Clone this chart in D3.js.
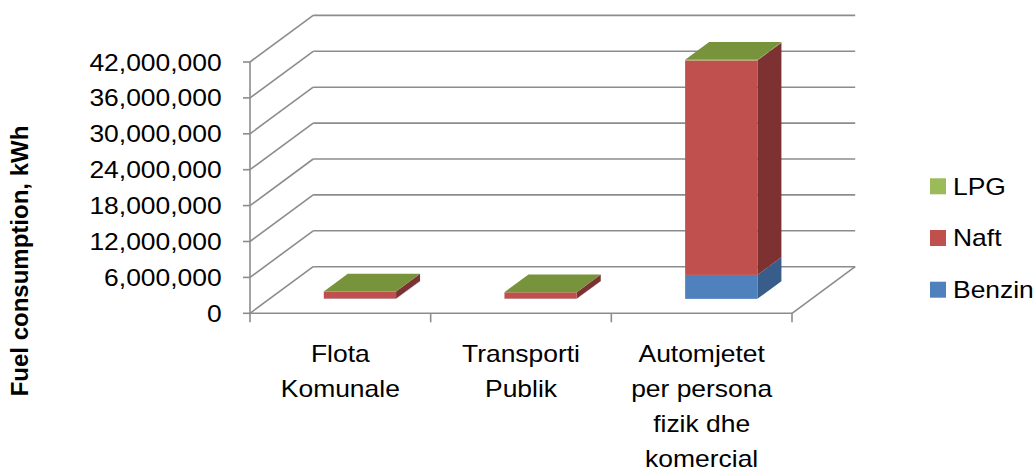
<script src="https://cdnjs.cloudflare.com/ajax/libs/d3/7.8.5/d3.min.js"></script>
<style>
  body { margin: 0; background: #fff; }
  svg { display: block; }
  text { font-family: 'Liberation Sans', Arial, sans-serif; fill: #000; }
</style>
<body>
<div id="chart"></div>
<script>

// chart data
let categories = ["Flota Komunale", "Transporti Publik", "Automjetet per persona fizik dhe komercial"];
let categoryLines = [["Flota", "Komunale"], ["Transporti", "Publik"], ["Automjetet", "per persona", "fizik dhe", "komercial"]];
let seriesNames = ["Benzin", "Naft", "LPG"];
let benzin = [50000, 40000, 4000000];
let naft = [1170000, 1060000, 35850000];
let lpg = [20000, 20000, 100000];
let yTicks = [0, 6000000, 12000000, 18000000, 24000000, 30000000, 36000000, 42000000];

let colors = {
  Benzin: { front: "#4F81BD", side: "#385D8A", top: "#4A76AC" },
  Naft:   { front: "#C0504D", side: "#7D3231", top: "#A84744" },
  LPG:    { front: "#9BBB59", side: "#6E8A3A", top: "#77933C" }
};
let gridColor = "#8c8c8c";
let textStretch = 1.15;

let svg = d3.select("#chart").append("svg")
  .attr("width", 1035)
  .attr("height", 471);

// front plane scales
let x = d3.scaleBand()
  .domain(categories)
  .range([250, 792])
  .paddingInner(0.6)
  .paddingOuter(0.3);
let step = x.step();

let y = d3.scaleLinear()
  .domain([0, 42000000])
  .range([313.3, 62]);

// depth of the 3d box
let depthX = d3.scaleLinear().domain([0, 1]).range([0, 63.2]);
let depthY = d3.scaleLinear().domain([0, 1]).range([0, -46.6]);
let barFront = 0.31, barBack = 0.69;

let grid = svg.append("g")
  .attr("stroke", gridColor)
  .attr("stroke-width", 1.6)
  .attr("fill", "none");

// back wall gridlines + side wall diagonals
yTicks.forEach(function(t) {
  grid.append("line")
    .attr("x1", 250 + depthX(1)).attr("y1", y(t) + depthY(1))
    .attr("x2", 792 + depthX(1)).attr("y2", y(t) + depthY(1));
  grid.append("line")
    .attr("x1", 250).attr("y1", y(t))
    .attr("x2", 250 + depthX(1)).attr("y2", y(t) + depthY(1));
  // tick on the value axis
  grid.append("line")
    .attr("x1", 243).attr("y1", y(t))
    .attr("x2", 250).attr("y2", y(t));
});

// floor front + right edge, value axis
grid.append("line")
  .attr("x1", 250).attr("y1", y(0))
  .attr("x2", 792).attr("y2", y(0));
grid.append("line")
  .attr("x1", 792).attr("y1", y(0))
  .attr("x2", 792 + depthX(1)).attr("y2", y(0) + depthY(1));
grid.append("line")
  .attr("x1", 250).attr("y1", y(42000000))
  .attr("x2", 250).attr("y2", y(0));

// category ticks
let catTicks = [250].concat(categories.map(function(c) { return x(c) - step * 0.3 + step; }));
catTicks.forEach(function(tx) {
  grid.append("line")
    .attr("x1", tx).attr("y1", y(0))
    .attr("x2", tx).attr("y2", y(0) + 9);
});

// stacked bars
let table = categories.map(function(c, i) {
  return { category: c, Benzin: benzin[i], Naft: naft[i], LPG: lpg[i] };
});
let stacked = d3.stack().keys(seriesNames)(table);

let bars = svg.append("g");
let ox = depthX(barFront), oy = depthY(barFront);
let dx = depthX(barBack) - depthX(barFront), dy = depthY(barBack) - depthY(barFront);

function poly(points) {
  return points.map(function(p) { return p.join(","); }).join(" ");
}

categories.forEach(function(c, i) {
  let xl = x(c) + ox, xr = x(c) + x.bandwidth() + ox;
  stacked.forEach(function(s) {
    let y0 = y(s[i][0]) + oy, y1 = y(s[i][1]) + oy;
    let col = colors[s.key];
    bars.append("polygon")
      .attr("points", poly([[xr, y0], [xr + dx, y0 + dy], [xr + dx, y1 + dy], [xr, y1]]))
      .attr("fill", col.side);
    bars.append("rect")
      .attr("x", xl).attr("y", y1)
      .attr("width", xr - xl).attr("height", Math.max(0, y0 - y1))
      .attr("fill", col.front);
  });
  let topS = stacked[stacked.length - 1];
  let yt = y(topS[i][1]) + oy;
  bars.append("polygon")
    .attr("points", poly([[xl, yt], [xl + dx, yt + dy], [xr + dx, yt + dy], [xr, yt]]))
    .attr("fill", colors[topS.key].top);
});

// value axis labels
svg.append("g").selectAll("text")
  .data(yTicks)
  .join("text")
  .attr("transform", function(d) { return "translate(221.7," + (y(d) + 8.5) + ") scale(" + textStretch + ",1)"; })
  .attr("text-anchor", "end")
  .style("font-size", "23px")
  .text(function(d) { return d3.format(",")(d); });

// category labels
let catLabels = svg.append("g");
categories.forEach(function(c, i) {
  let cx = x(c) + x.bandwidth() / 2;
  categoryLines[i].forEach(function(line, j) {
    catLabels.append("text")
      .attr("transform", "translate(" + cx + "," + (361.7 + j * 35) + ") scale(" + textStretch + ",1)")
      .attr("text-anchor", "middle")
      .style("font-size", "23px")
      .text(line);
  });
});

// axis title
svg.append("text")
  .attr("transform", "translate(27.5,261) rotate(-90)")
  .attr("text-anchor", "middle")
  .style("font-size", "24px")
  .style("font-weight", "bold")
  .text("Fuel consumption, kWh");

// legend
let legendOrder = seriesNames.slice().reverse();
let legend = svg.append("g").selectAll("g")
  .data(legendOrder)
  .join("g")
  .attr("transform", function(d, i) { return "translate(930," + (186.3 + i * 51.7) + ")"; });
legend.append("rect")
  .attr("x", 0).attr("y", -8)
  .attr("width", 16).attr("height", 16)
  .attr("fill", function(d) { return colors[d].front; });
legend.append("text")
  .attr("transform", "translate(23,8.2) scale(" + textStretch + ",1)")
  .style("font-size", "23px")
  .text(function(d) { return d; });

</script>
</body>
